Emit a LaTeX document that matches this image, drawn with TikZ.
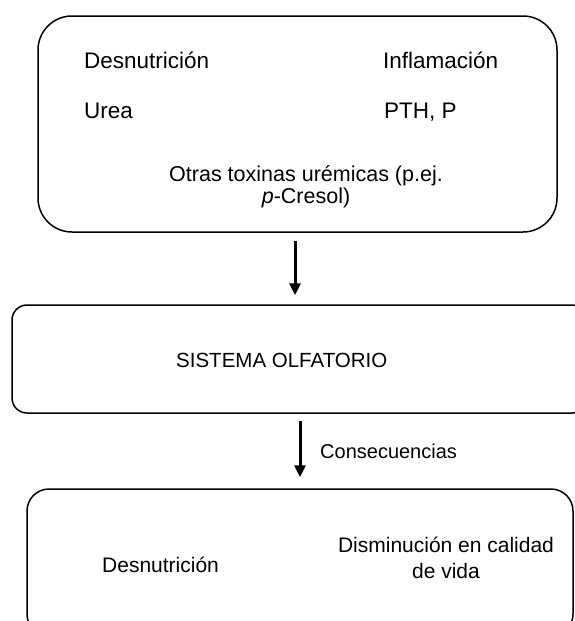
\documentclass[tikz,border=0pt]{standalone}
\usepackage{fontspec}
\setmainfont{Liberation Sans}
\usetikzlibrary{arrows.meta}
\begin{document}
\begin{tikzpicture}[x=1pt,y=-1pt,
  box/.style={draw, line width=1.5pt, rounded corners=#1, inner sep=0pt},
  txt/.style={inner sep=0pt, anchor=base west},
  ftop/.style={font=\fontsize{22.5}{25}\selectfont},
  fmid/.style={font=\fontsize{20.5}{24}\selectfont},
  fbot/.style={font=\fontsize{21}{26}\selectfont},
  arr/.style={line width=3pt, -{Triangle[width=11pt,length=12pt]}}]
\useasboundingbox (0,0) rectangle (575,621);

% boxes
\node[box=34pt, minimum width=519pt, minimum height=216pt] (top) at (297.5,124) {};
\node[box=15pt, minimum width=575pt, minimum height=108pt] (mid) at (299.5,359) {};
\node[box=22pt, minimum width=546pt, minimum height=147pt] (bot) at (300,562.5) {};

% top box texts
\node[txt, ftop] (d1) at (84,68) {Desnutrición};
\node[txt, ftop] (i1) at (383,68) {Inflamación};
\node[txt, ftop] (u1) at (84,118) {Urea};
\node[txt, ftop] (p1) at (384,118) {PTH, P};
\node[inner sep=0pt, align=center, font=\fontsize{21.5}{21.5}\selectfont] (o1) at (306,187)
  {Otras toxinas urémicas (p.ej.\\\textit{p}-Cresol)};

% middle box text
\node[txt, fmid] (s1) at (176,367) {SISTEMA OLFATORIO};

% bottom box texts
\node[txt, fbot] (d2) at (102,572) {Desnutrición};
\node[inner sep=0pt, align=center, fbot] (q2) at (446,558) {Disminución en calidad\\de vida};

% arrows
\coordinate (a1) at (295,0);
\coordinate (a2) at (300,0);
\draw[arr, shorten <=8pt, shorten >=9pt] (top.south -| a1) -- (mid.north -| a1);
\draw[arr, shorten <=7pt, shorten >=11pt] (mid.south -| a2) -- (bot.north -| a2);
\node[inner sep=0pt, anchor=west, font=\fontsize{20}{24}\selectfont] (c1) at (320,451) {Consecuencias};
\end{tikzpicture}
\end{document}
